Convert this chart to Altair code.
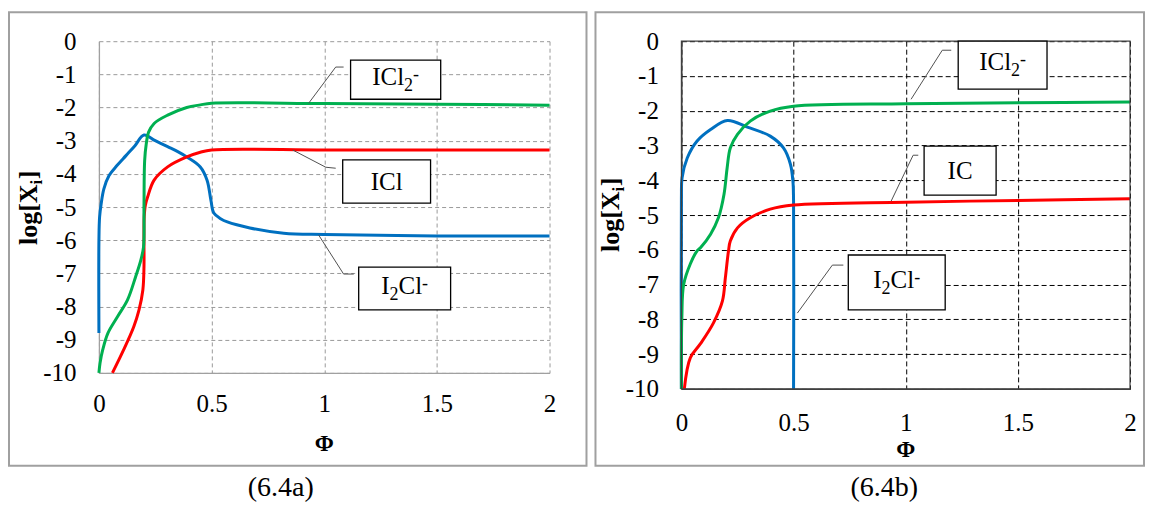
import altair as alt
import pandas as pd

FONT = "Liberation Serif"
BLUE, RED, GREEN = "#0070C0", "#FF0000", "#00B050"

# ---------------- data: panel (6.4a) ----------------
A_I2CL_X = [0, 0, 0.003, 0.01, 0.022, 0.045, 0.08, 0.12, 0.16, 0.2, 0.25, 0.305, 0.35, 0.39, 0.45, 0.48, 0.497, 0.51, 0.54, 0.57, 0.67, 0.82, 1.0, 1.5, 2.0]
A_I2CL_Y = [-8.8, -6.0, -5.3, -4.9, -4.45, -4.05, -3.75, -3.45, -3.15, -2.83, -3.0, -3.18, -3.33, -3.49, -3.79, -4.19, -4.79, -5.18, -5.35, -5.45, -5.63, -5.79, -5.83, -5.87, -5.87]
A_ICL_X = [0.06, 0.11, 0.155, 0.178, 0.195, 0.2, 0.2, 0.201, 0.206, 0.216, 0.245, 0.305, 0.39, 0.45, 0.5, 1.0, 1.5, 2.0]
A_ICL_Y = [-10.0, -9.3, -8.6, -8.1, -7.5, -6.8, -6.0, -5.3, -4.95, -4.7, -4.19, -3.79, -3.49, -3.35, -3.28, -3.28, -3.28, -3.28]
A_ICL2_X = [0, 0.005, 0.017, 0.04, 0.083, 0.127, 0.163, 0.186, 0.198, 0.2, 0.203, 0.21, 0.22, 0.245, 0.305, 0.39, 0.45, 0.5, 1.0, 1.5, 2.0]
A_ICL2_Y = [-10.0, -9.7, -9.3, -8.8, -8.3, -7.8, -7.1, -6.6, -6.2, -5.0, -3.6, -3.1, -2.75, -2.48, -2.23, -2.0, -1.92, -1.87, -1.88, -1.9, -1.93]

# ---------------- data: panel (6.4b) ----------------
B_I2CL_X = [0, 0, 0.003, 0.026, 0.07, 0.13, 0.205, 0.294, 0.396, 0.455, 0.486, 0.497, 0.5, 0.5]
B_I2CL_Y = [-10.0, -4.5, -3.93, -3.36, -2.87, -2.54, -2.28, -2.47, -2.73, -3.07, -3.54, -4.02, -4.6, -10.0]
B_IC_X = [0.013, 0.04, 0.085, 0.143, 0.183, 0.196, 0.21, 0.218, 0.25, 0.307, 0.396, 0.5, 1.0, 1.5, 2.0]
B_IC_Y = [-10.0, -9.1, -8.7, -8.1, -7.47, -6.8, -6.03, -5.75, -5.37, -5.08, -4.83, -4.71, -4.63, -4.58, -4.53]
B_ICL2_X = [0, 0.002, 0.01, 0.04, 0.07, 0.085, 0.13, 0.165, 0.19, 0.204, 0.218, 0.25, 0.307, 0.396, 0.5, 1.0, 1.5, 2.0]
B_ICL2_Y = [-10.0, -7.95, -7.0, -6.4, -6.03, -5.94, -5.55, -5.08, -4.4, -3.64, -3.07, -2.68, -2.3, -2.01, -1.87, -1.8, -1.77, -1.75]

X_TICKS = [0, 0.5, 1, 1.5, 2]
Y_TICKS = list(range(-10, 1))
CAPTIONS = ["(6.4a)", "(6.4b)"]

# annotation boxes: (parts, x0, x1, y0, y1) in data units ; leaders as x/y lists
A_BOXES = [
    ([("ICl", "n"), ("2", "sub"), ("-", "sup")], 1.117, 1.517, -0.57, -1.75),
    ([("ICl", "n")], 1.082, 1.472, -3.58, -4.88),
    ([("I", "n"), ("2", "sub"), ("Cl", "n"), ("-", "sup")], 1.153, 1.561, -6.81, -8.1),
]
A_LEADERS = [
    ([0.931, 1.051, 1.086], [-1.87, -0.78, -0.78]),
    ([0.86, 1.007, 1.051], [-3.28, -3.8, -3.83]),
    ([0.975, 1.086, 1.131], [-5.84, -7.02, -7.02]),
]
B_BOXES = [
    ([("ICl", "n"), ("2", "sub"), ("-", "sup")], 1.234, 1.630, 0.0, -1.38),
    ([("IC", "n")], 1.082, 1.403, -3.02, -4.43),
    ([("I", "n"), ("2", "sub"), ("Cl", "n"), ("-", "sup")], 0.744, 1.176, -6.15, -7.73),
]
B_LEADERS = [
    ([1.024, 1.163, 1.203], [-1.67, -0.26, -0.26]),
    ([0.935, 1.033, 1.056], [-4.6, -3.28, -3.28]),
    ([0.517, 0.673, 0.722], [-7.82, -6.44, -6.44]),
]

SERIES = ["I2Cl-", "ICl", "ICl2-"]
CW = {"I": 0.333, "C": 0.667, "l": 0.278, "2": 0.5, "-": 0.333}
BIG, SMALL = 25, 18


def series_df(items):
    rows = []
    for name, xs, ys in items:
        for i, (x, y) in enumerate(zip(xs, ys)):
            rows.append({"x": x, "y": y, "s": name, "o": i})
    return pd.DataFrame(rows)


def leader_df(leaders):
    rows = []
    for k, (xs, ys) in enumerate(leaders):
        for i, (x, y) in enumerate(zip(xs, ys)):
            rows.append({"x": x, "y": y, "id": k, "o": i})
    return pd.DataFrame(rows)


def box_df(boxes):
    return pd.DataFrame([{"x0": b[1], "x1": b[2], "y0": b[3], "y1": b[4]} for b in boxes])


def label_df(boxes, ppx, ppy):
    rows = []
    for parts, x0, x1, y0, y1 in boxes:
        cx, cy = (x0 + x1) / 2, (y0 + y1) / 2
        has_sub = any(k == "sub" for _, k in parts)
        widths = [sum(CW[c] for c in t) * (BIG if k == "n" else SMALL) for t, k in parts]
        off = -sum(widths) / 2
        base = BIG * 0.33 - (3 if has_sub else 0)
        for (t, k), w in zip(parts, widths):
            dy = base + (6 if k == "sub" else (-5 if k == "sup" else 0))
            rows.append({"x": cx + off / ppx, "y": cy - dy / ppy, "t": t,
                         "sz": BIG if k == "n" else SMALL})
            off += w
    return pd.DataFrame(rows)


ONE = pd.DataFrame({"k": [0]})


def panel(lines, boxes, leaders, W, H, grid_color, grid_dash, dom_color, xpad,
          border, frame, ytitle_c, phi_y, caption, cap_x, cap_y):
    xs = alt.Scale(domain=[0, 2], nice=False, zero=False)
    ys = alt.Scale(domain=[-10, 0], nice=False, zero=False)
    xa = alt.Axis(values=X_TICKS, labelExpr="datum.value + ''", grid=True, gridDash=grid_dash,
                  gridColor=grid_color, gridWidth=1, domainColor=dom_color, domainWidth=1.3,
                  ticks=False, labelPadding=xpad, labelFont=FONT, labelFontSize=25,
                  labelColor="black", labelFlush=False, labelAngle=0, title=None)
    ya = alt.Axis(values=Y_TICKS, labelExpr="datum.value + ''", grid=True, gridDash=grid_dash,
                  gridColor=grid_color, gridWidth=1, domainColor=dom_color, domainWidth=1.3,
                  ticks=False, labelPadding=23, labelFont=FONT, labelFontSize=25,
                  labelColor="black", labelOverlap=False, title=None)
    X = lambda f: alt.X(f, type="quantitative", scale=xs, axis=xa)
    Y = lambda f: alt.Y(f, type="quantitative", scale=ys, axis=ya)

    outer = alt.Chart(ONE).mark_rect(fillOpacity=0, stroke="#a0a0a0", strokeWidth=2).encode(
        x=alt.value(border[0]), x2=alt.value(border[1]), y=alt.value(border[2]), y2=alt.value(border[3]))

    curves = alt.Chart(series_df(lines)).mark_line(strokeWidth=3, interpolate="catmull-rom").encode(
        x=X("x"), y=Y("y"),
        color=alt.Color("s:N", scale=alt.Scale(domain=SERIES, range=[BLUE, RED, GREEN]), legend=None),
        order=alt.Order("o:Q"))

    layers = [outer, curves]
    if frame:
        layers.append(alt.Chart(ONE).mark_rect(fillOpacity=0, stroke="#404040", strokeWidth=1.2).encode(
            x=alt.value(0), x2=alt.value(W), y=alt.value(0), y2=alt.value(H)))

    lead = alt.Chart(leader_df(leaders)).mark_line(color="#505050", strokeWidth=1).encode(
        x=X("x"), y=Y("y"), detail="id:N", order=alt.Order("o:Q"))
    bx = alt.Chart(box_df(boxes)).mark_rect(fill="white", stroke="black", strokeWidth=1.3).encode(
        x=X("x0"), x2="x1", y=Y("y0"), y2="y1")
    lbl = alt.Chart(label_df(boxes, W / 2, H / 10)).mark_text(
        font=FONT, align="left", baseline="alphabetic", color="black").encode(
        x=X("x"), y=Y("y"), text="t:N", size=alt.Size("sz:Q", scale=None, legend=None))
    layers += [lead, bx, lbl]

    # rotated y title  log[X_i]
    TB, TS = 26, 17
    w1 = (0.278 + 0.5 + 0.5 + 0.333 + 0.722) * TB
    w2 = 0.278 * TS
    start = ytitle_c + (w1 + w2 + 0.333 * TB) / 2
    for txt, fs, yy, xx in [("log[X", TB, start, -62), ("i", TS, start - w1, -57),
                            ("]", TB, start - w1 - w2 - 0.5, -62)]:
        layers.append(alt.Chart(ONE).mark_text(
            text=txt, font=FONT, fontSize=fs, fontWeight="bold", angle=270,
            align="left", baseline="alphabetic", color="black").encode(
            x=alt.value(xx), y=alt.value(yy)))

    layers.append(alt.Chart(ONE).mark_text(
        text="Φ", font=FONT, fontSize=23, fontWeight="bold", align="center",
        baseline="alphabetic", color="black").encode(x=alt.value(W / 2), y=alt.value(phi_y)))
    layers.append(alt.Chart(ONE).mark_text(
        text=caption, font=FONT, fontSize=28, align="center",
        baseline="alphabetic", color="black").encode(x=alt.value(cap_x), y=alt.value(cap_y)))

    return alt.layer(*layers).properties(width=W, height=H)


pa = panel([("I2Cl-", A_I2CL_X, A_I2CL_Y), ("ICl", A_ICL_X, A_ICL_Y), ("ICl2-", A_ICL2_X, A_ICL2_Y)],
           A_BOXES, A_LEADERS, 451, 332, "#9a9a9a", [4, 3], "#a0a0a0", 19,
           (-90, 488, -29, 425), False, 167, 410, CAPTIONS[0], 182, 455)
pb = panel([("I2Cl-", B_I2CL_X, B_I2CL_Y), ("ICl", B_IC_X, B_IC_Y), ("ICl2-", B_ICL2_X, B_ICL2_Y)],
           B_BOXES, B_LEADERS, 449, 348, "#000000", [5, 3], "#404040", 22,
           (-86, 463, -29, 425), True, 174, 416, CAPTIONS[1], 203, 455)

chart = alt.hconcat(pa, pb, spacing=132, bounds="flush").properties(
    padding={"left": 0, "top": 3, "right": 0, "bottom": 0}
).configure(font=FONT).configure_view(stroke=None).configure_axis(labelFont=FONT, labelFontSize=25)

chart.save("out.html", embed_options={"renderer": "svg", "actions": False})
